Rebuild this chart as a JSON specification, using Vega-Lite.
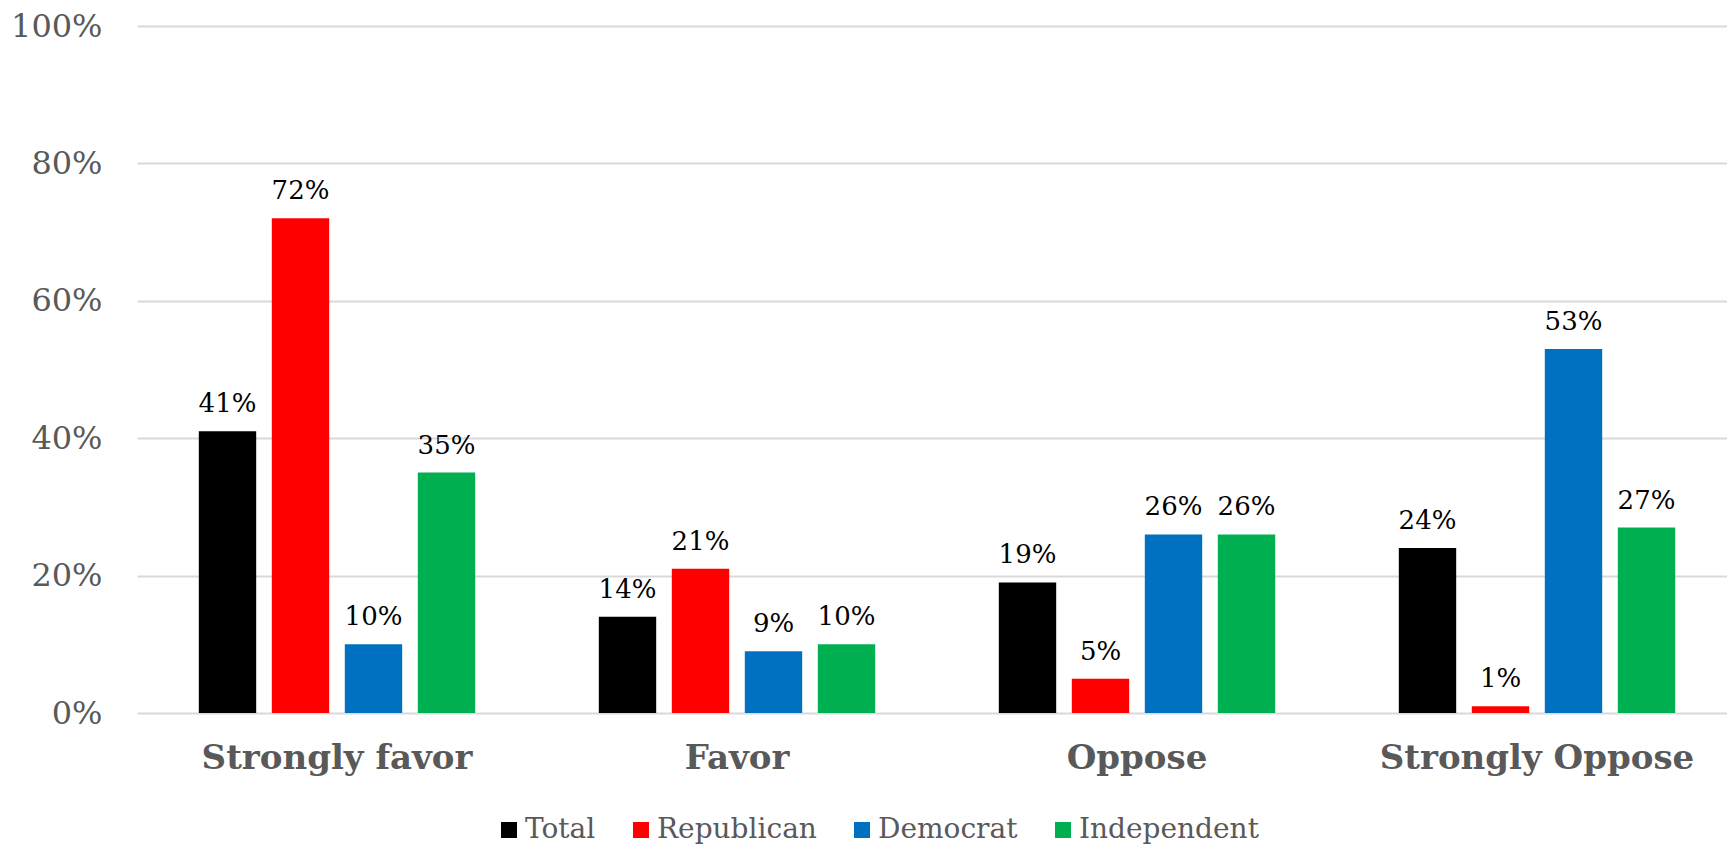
{
  "$schema": "https://vega.github.io/schema/vega-lite/v6.json",
  "autosize": {"type": "none"},
  "width": 1590,
  "height": 687,
  "padding": {"left": 137, "top": 26, "right": 0, "bottom": 132},
  "background": "white",
  "data": {
    "values": [
      {"category": "Strongly favor", "group": "Total", "value": 0.41},
      {"category": "Strongly favor", "group": "Republican", "value": 0.72},
      {"category": "Strongly favor", "group": "Democrat", "value": 0.10},
      {"category": "Strongly favor", "group": "Independent", "value": 0.35},
      {"category": "Favor", "group": "Total", "value": 0.14},
      {"category": "Favor", "group": "Republican", "value": 0.21},
      {"category": "Favor", "group": "Democrat", "value": 0.09},
      {"category": "Favor", "group": "Independent", "value": 0.10},
      {"category": "Oppose", "group": "Total", "value": 0.19},
      {"category": "Oppose", "group": "Republican", "value": 0.05},
      {"category": "Oppose", "group": "Democrat", "value": 0.26},
      {"category": "Oppose", "group": "Independent", "value": 0.26},
      {"category": "Strongly Oppose", "group": "Total", "value": 0.24},
      {"category": "Strongly Oppose", "group": "Republican", "value": 0.01},
      {"category": "Strongly Oppose", "group": "Democrat", "value": 0.53},
      {"category": "Strongly Oppose", "group": "Independent", "value": 0.27}
    ]
  },
  "encoding": {
    "x": {
      "field": "category",
      "type": "nominal",
      "sort": ["Strongly favor", "Favor", "Oppose", "Strongly Oppose"],
      "scale": {"range": [0, 1600], "paddingInner": 0.27, "paddingOuter": 0.135},
      "axis": {
        "title": null,
        "labelAngle": 0,
        "labelFont": "DejaVu Serif",
        "labelFontWeight": "bold",
        "labelFontSize": 34,
        "labelColor": "#595959",
        "labelPadding": 28,
        "labelLimit": 500,
        "ticks": false,
        "domain": false
      }
    },
    "xOffset": {
      "field": "group",
      "type": "nominal",
      "sort": ["Total", "Republican", "Democrat", "Independent"],
      "scale": {"paddingInner": 0.214, "paddingOuter": 0.107}
    },
    "y": {
      "field": "value",
      "type": "quantitative",
      "scale": {"domain": [0, 1], "nice": false},
      "axis": {
        "title": null,
        "format": ".0%",
        "values": [0, 0.2, 0.4, 0.6, 0.8, 1.0],
        "labelFont": "DejaVu Serif",
        "labelFontSize": 32,
        "labelColor": "#595959",
        "labelPadding": 35,
        "ticks": false,
        "domain": false,
        "grid": true,
        "gridColor": "#D9D9D9",
        "gridWidth": 2
      }
    }
  },
  "layer": [
    {
      "mark": {"type": "bar"},
      "encoding": {
        "color": {
          "field": "group",
          "type": "nominal",
          "scale": {
            "domain": ["Total", "Republican", "Democrat", "Independent"],
            "range": ["#000000", "#FF0000", "#0070C0", "#00B050"]
          },
          "legend": {
            "title": null,
            "orient": "none",
            "direction": "horizontal",
            "legendX": 358,
            "legendY": 790,
            "padding": 0,
            "symbolType": "square",
            "symbolSize": 256,
            "symbolStrokeWidth": 0,
            "symbolOpacity": 1,
            "labelFont": "DejaVu Serif",
            "labelFontSize": 28,
            "labelColor": "#595959",
            "labelOffset": 2,
            "columnPadding": 31,
            "labelLimit": 400
          }
        }
      }
    },
    {
      "mark": {
        "type": "text",
        "baseline": "alphabetic",
        "dy": -19,
        "font": "DejaVu Serif",
        "fontSize": 26,
        "color": "#000000"
      },
      "encoding": {
        "text": {"field": "value", "type": "quantitative", "format": ".0%"}
      }
    }
  ],
  "config": {
    "view": {"stroke": null}
  }
}
